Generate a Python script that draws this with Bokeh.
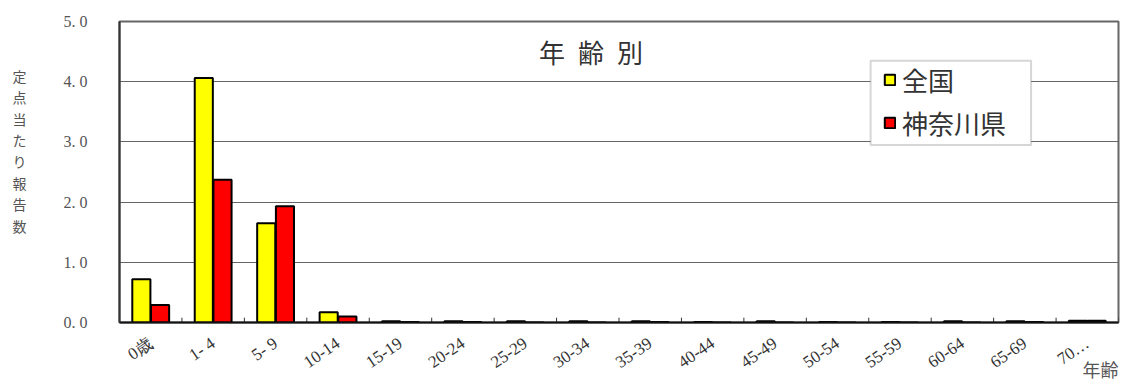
from bokeh.plotting import figure
from bokeh.models import (FactorRange, Range1d, ColumnDataSource, Label, FixedTicker, Legend,
                          LegendItem, BoxAnnotation)
from bokeh.transform import dodge
from bokeh.embed import file_html
from bokeh.resources import INLINE

categories = ["0歳", "1- 4", "5- 9", "10-14", "15-19", "20-24", "25-29", "30-34",
              "35-39", "40-44", "45-49", "50-54", "55-59", "60-64", "65-69", "70…"]
zenkoku = [0.72, 4.06, 1.65, 0.17, 0.02, 0.02, 0.02, 0.02, 0.02, 0.01, 0.02, 0.01, 0.01, 0.02, 0.02, 0.03]
kanagawa = [0.29, 2.37, 1.93, 0.10, 0.01, 0.01, 0.0, 0.0, 0.01, 0.0, 0.0, 0.0, 0.0, 0.0, 0.01, 0.03]
series_names = ["全国", "神奈川県"]
series_colors = ["#FFFF00", "#FF0000"]
y_ticks = [0, 1, 2, 3, 4, 5]

src = ColumnDataSource(dict(cat=categories, z=zenkoku, k=kanagawa))

p = figure(width=1120, height=384, x_range=FactorRange(*categories, range_padding=0),
           y_range=Range1d(0, 5), output_backend="svg", toolbar_location=None,
           min_border_left=119, min_border_right=2, min_border_top=21, min_border_bottom=56)

r1 = p.vbar(x=dodge("cat", -0.15, range=p.x_range), top="z", width=0.29, source=src,
            fill_color=series_colors[0], line_color="black", line_width=2)
r2 = p.vbar(x=dodge("cat", 0.15, range=p.x_range), top="k", width=0.29, source=src,
            fill_color=series_colors[1], line_color="black", line_width=2)

# boundary ticks along the x axis
n = len(categories)
p.segment(x0=list(range(n + 1)), y0=[0] * (n + 1), x1=list(range(n + 1)), y1=[0.08] * (n + 1),
          line_color="#333", line_width=1)

p.outline_line_color = "#666"
p.outline_line_width = 2
p.background_fill_color = "white"
p.border_fill_color = "white"

p.xgrid.grid_line_color = None
p.ygrid.grid_line_color = "#666"
p.ygrid.grid_line_width = 1
p.ygrid.ticker = FixedTicker(ticks=y_ticks)

p.yaxis.ticker = FixedTicker(ticks=y_ticks)
p.yaxis.major_label_overrides = {t: f"{t:.1f}".replace(".", ".  ") for t in y_ticks}
p.yaxis.major_label_text_font = "Liberation Serif"
p.yaxis.major_label_text_font_size = "16px"
p.yaxis.major_label_text_color = "#555"
p.yaxis.major_label_standoff = 28
p.yaxis.major_tick_out = 0
p.yaxis.major_tick_in = 0
p.yaxis.minor_tick_line_color = None
p.yaxis.axis_line_color = "#333"
p.yaxis.axis_line_width = 2
p.yaxis.axis_label = "定\n点\n当\nた\nり\n報\n告\n数\n\u3000\n\u3000"
p.yaxis.axis_label_orientation = "horizontal"
p.yaxis.axis_label_text_font = "Noto Sans CJK JP"
p.yaxis.axis_label_text_font_size = "14px"
p.yaxis.axis_label_text_font_style = "normal"
p.yaxis.axis_label_text_color = "#555"
p.yaxis.axis_label_text_line_height = 1.07
p.yaxis.axis_label_standoff = 34

p.xaxis.axis_line_color = "#111"
p.xaxis.axis_line_width = 2
p.xaxis.major_tick_line_color = None
p.xaxis.minor_tick_line_color = None
p.xaxis.major_label_orientation = 0.6
p.xaxis.major_label_text_font = "Liberation Serif"
p.xaxis.major_label_text_font_size = "17px"
p.xaxis.major_label_text_color = "#333"
p.xaxis.major_label_standoff = 13
# label is centred on the frame end, so pad with full-width spaces to put the text left of it
p.xaxis.axis_label = "年齢\u3000\u3000"
p.xaxis.axis_label_align = "end"
p.xaxis.axis_label_standoff = -27
p.xaxis.axis_label_text_font = "Noto Sans CJK JP"
p.xaxis.axis_label_text_font_size = "18px"
p.xaxis.axis_label_text_font_style = "normal"
p.xaxis.axis_label_text_color = "#555"
p.xaxis.axis_label_text_line_height = 0.8

p.add_layout(Label(x=7.55, y=4.5, text="年\u2002齢\u2002別", text_font="Noto Sans CJK JP",
                   text_font_size="26px", text_color="#333", text_align="center",
                   text_baseline="middle"))

# legend frame
p.add_layout(BoxAnnotation(left=12.03, right=14.6, bottom=2.95, top=4.35,
                           fill_color="white", fill_alpha=1, line_color="#777", line_width=2,
                           level="annotation"))

legend = Legend(items=[LegendItem(label=series_names[0], renderers=[r1]),
                       LegendItem(label=series_names[1], renderers=[r2])],
                location=(764, 181), orientation="vertical")
legend.label_text_font = "Noto Sans CJK JP"
legend.label_text_font_size = "26px"
legend.label_text_color = "#333"
legend.label_height = 30
legend.glyph_width = 13
legend.glyph_height = 13
legend.label_standoff = 6
legend.spacing = 6
legend.padding = 4
legend.margin = 0
legend.border_line_color = None
legend.background_fill_alpha = 0
p.add_layout(legend, "center")

open("out.html", "w").write(file_html(p, INLINE))
